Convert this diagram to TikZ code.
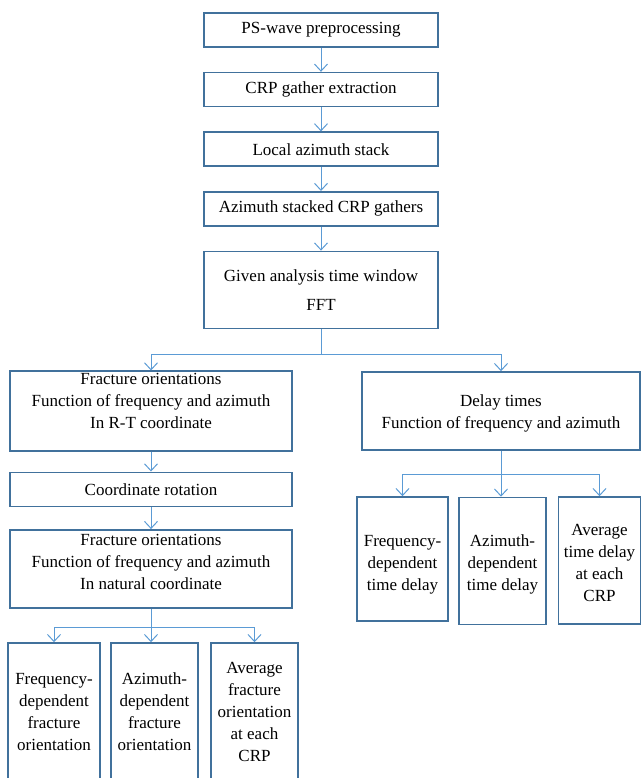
\documentclass[tikz,border=0pt]{standalone}
\usepackage{fontspec}
\setmainfont{Liberation Serif}
\usetikzlibrary{positioning, arrows.meta}
\definecolor{boxblue}{RGB}{65,113,156}
\definecolor{lineblue}{RGB}{91,155,213}
\tikzset{
    box/.style = {rectangle, draw=boxblue, line width=1.6pt, fill=white, align=flush center, inner sep=2pt, minimum height=34pt, minimum width=234pt, font=\fontsize{17}{22}\selectfont},
    tallbox/.style = {box, minimum width=282pt, minimum height=78pt, text width=274pt},
    narrowbox/.style = {box, minimum width=87pt, text width=82pt},
    line/.style = {draw=lineblue, line width=1pt, -{Straight Barb[length=7pt, width=13pt]}},
    link/.style = {draw=lineblue, line width=1pt}
}

\begin{document}
\begin{tikzpicture}[x=1pt, y=-1pt, node distance=24pt]
        \useasboundingbox (0,0) rectangle (641,778);

        % Processing chain
        \node [box] (ps) at (321,30) {PS-wave preprocessing};
        \node [box, below=of ps] (crp) {CRP gather extraction};
        \node [box, below=of crp] (las) {Local azimuth stack};
        \node [box, below=of las] (asc) {Azimuth stacked CRP gathers};
        \node [box, below=of asc, minimum height=77pt] (fft) {Given analysis time window\\[7pt]FFT};

        % Fracture orientation branch
        \node [tallbox] (frt) at (151,411) {Fracture orientations\\Function of frequency and azimuth\\In R-T coordinate\par\kern20pt};
        \node [box, minimum width=282pt, below=20pt of frt] (rot) {Coordinate rotation};
        \node [tallbox, below=22pt of rot] (nat) {Fracture orientations\\Function of frequency and azimuth\\In natural coordinate\par\kern14pt};

        % Fracture outputs
        \node [narrowbox, minimum width=92pt, minimum height=138pt] (fqo) at (54,712) {Frequency-\\dependent\\fracture\\orientation};
        \node [narrowbox, minimum height=138pt] (azo) at (154.5,712) {Azimuth-\\dependent\\fracture\\orientation};
        \node [narrowbox, minimum height=138pt] (avo) at (254.5,712) {Average\\fracture\\orientation\\at each\\CRP};

        % Delay time branch
        \node [tallbox, minimum width=278pt, text width=270pt] (dly) at (501,411) {Delay times\\Function of frequency and azimuth\par\kern-4pt};

        % Delay time outputs
        \node [narrowbox, minimum width=91pt, minimum height=124pt] (fqd) at (402.5,559) {Frequency-\\dependent\\time delay\par\kern-12pt};
        \node [narrowbox, minimum height=127pt] (azd) at (502.5,561) {Azimuth-\\dependent\\time delay\par\kern-6pt};
        \node [narrowbox, minimum width=81pt, text width=78pt, minimum height=127pt] (avd) at (599.5,560.5) {Average\\time delay\\at each\\CRP\par\kern-4pt};

        % Arrows
        \path [line] (ps) -- (crp);
        \path [line] (crp) -- (las);
        \path [line] (las) -- (asc);
        \path [line] (asc) -- (fft);
        \path [link] (fft.south) -- ++(0,25) coordinate (fb);
        \path [line] (fb) -| (frt.north);
        \path [line] (fb) -| (dly.north);
        \path [line] (frt) -- (rot);
        \path [line] (rot) -- (nat);
        \path [link] (nat.south) -- ++(0,19) coordinate (nb);
        \path [line] (nb) -| (fqo.north);
        \path [line] (nb) -- (nb |- azo.north);
        \path [line] (nb) -| (avo.north);
        \path [link] (dly.south) -- ++(0,24) coordinate (db);
        \path [line] (db) -| (fqd.north);
        \path [line] (db) -- (db |- azd.north);
        \path [line] (db) -| (avd.north);

    \end{tikzpicture}
\end{document}
